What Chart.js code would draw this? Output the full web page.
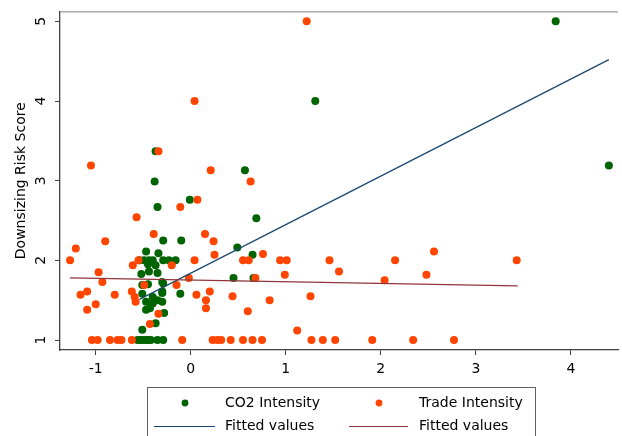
<!DOCTYPE html>
<html>
<head>
<meta charset="utf-8">
<script src="https://cdn.jsdelivr.net/npm/chart.js@4"></script>
<style>
  html, body { margin: 0; padding: 0; background: #fff; }
  canvas { display: block; }
</style>
</head>
<body>
<canvas id="riskChart" width="622" height="436"></canvas>
<script>
// CO2 intensity vs. downsizing risk (green)
const co2Points = [
    [3.84, 5], [1.31, 4], [4.40, 3.19], [-0.37, 3.37], [-0.38, 2.99], [0.57, 3.13], [-0.35, 2.67], [-0.01, 2.76], [0.69, 2.53],
    [-0.29, 2.25], [-0.10, 2.25], [0.49, 2.16], [0.65, 2.07], [0.45, 1.78], [0.66, 1.78],
    [-0.47, 2.11], [-0.34, 2.09],
    [-0.54, 2.0], [-0.49, 2.0], [-0.44, 2.0], [-0.40, 2.0], [-0.29, 2.0], [-0.23, 2.0], [-0.16, 2.0],
    [-0.45, 1.95], [-0.37, 1.94],
    [-0.52, 1.83], [-0.44, 1.86], [-0.35, 1.84],
    [-0.51, 1.69], [-0.45, 1.70], [-0.29, 1.71], [-0.30, 1.73],
    [-0.11, 1.58], [-0.51, 1.58], [-0.40, 1.54], [-0.30, 1.59], [-0.30, 1.61],
    [-0.47, 1.48], [-0.40, 1.46], [-0.30, 1.48], [-0.35, 1.50],
    [-0.47, 1.38], [-0.43, 1.40], [-0.28, 1.34],
    [-0.37, 1.21], [-0.51, 1.13],
    [-0.56, 1], [-0.53, 1], [-0.50, 1], [-0.47, 1], [-0.45, 1], [-0.42, 1], [-0.35, 1], [-0.29, 1]
];

// trade intensity vs. downsizing risk (orange)
const tradePoints = [
    [1.22, 5], [0.04, 4], [-1.05, 3.19], [-0.34, 3.37], [0.21, 3.13], [0.63, 2.99], [0.07, 2.76],
    [-1.27, 2.0], [-1.21, 2.15], [-0.90, 2.24], [-1.16, 1.57], [-1.09, 1.61], [-1.09, 1.38], [-1.0, 1.45], [-0.97, 1.85], [-0.93, 1.73], [-0.80, 1.57],
    [-0.57, 2.54], [-0.61, 1.94], [-0.55, 2.0], [-0.62, 1.61], [-0.59, 1.54], [-0.58, 1.48], [-0.49, 1.69], [-0.39, 2.33], [-0.34, 1.33], [-0.43, 1.2],
    [-0.20, 1.94], [-0.15, 1.69], [-0.11, 2.67], [-0.02, 1.78], [0.04, 2.0], [0.06, 1.57], [0.15, 2.33], [0.24, 2.24], [0.25, 2.07], [0.20, 1.61], [0.16, 1.50], [0.16, 1.40],
    [0.44, 1.55], [0.55, 2.0], [0.61, 2.0], [0.60, 1.36], [0.68, 1.78], [0.76, 2.08], [0.83, 1.50], [0.94, 2.0], [1.01, 2.0], [0.99, 1.82], [1.12, 1.12], [1.26, 1.55],
    [1.46, 2.0], [1.56, 1.86], [2.04, 1.75], [2.15, 2.0], [2.48, 1.82], [2.56, 2.11], [3.43, 2.0],
    [-1.04, 1], [-0.98, 1], [-0.85, 1], [-0.77, 1], [-0.73, 1], [-0.62, 1], [-0.09, 1], [0.23, 1], [0.28, 1], [0.32, 1],
    [0.42, 1], [0.55, 1], [0.65, 1], [0.75, 1], [1.27, 1], [1.39, 1], [1.52, 1], [1.91, 1], [2.34, 1], [2.77, 1]
];

// fitted lines (end points)
const co2Fit = [[-0.54, 1.51], [4.40, 4.52]];
const tradeFit = [[-1.27, 1.78], [3.44, 1.68]];

const xTicks = [-1, 0, 1, 2, 3, 4];
const yTicks = [1, 2, 3, 4, 5];

const seriesLabels = ['CO2 Intensity', 'Trade Intensity', 'Fitted values', 'Fitted values'];

const FONT = "'DejaVu Sans', sans-serif";
const AXIS = '#404040';

const toXY = arr => arr.map(p => ({ x: p[0], y: p[1] }));

// y tick labels are drawn rotated (Stata style), plus top frame and boxed legend
const stataDecor = {
    id: 'stataDecor',
    afterDraw(chart) {
        const ctx = chart.ctx;
        const area = chart.chartArea;
        const ys = chart.scales.y;

        ctx.save();
        // top frame line
        ctx.strokeStyle = '#808080';
        ctx.lineWidth = 1;
        ctx.beginPath();
        ctx.moveTo(area.left, area.top + 0.5);
        ctx.lineTo(area.right, area.top + 0.5);
        ctx.stroke();

        // rotated y tick labels
        ctx.fillStyle = '#000';
        ctx.font = '14px ' + FONT;
        ctx.textAlign = 'center';
        ctx.textBaseline = 'middle';
        ys.ticks.forEach(t => {
            const py = ys.getPixelForValue(t.value);
            ctx.save();
            ctx.translate(41, py);
            ctx.rotate(-Math.PI / 2);
            ctx.fillText(String(t.value), 0, 0);
            ctx.restore();
        });

        // legend box
        const ds = chart.data.datasets;
        ctx.strokeStyle = '#606060';
        ctx.lineWidth = 1;
        ctx.strokeRect(147.5, 387.5, 388, 60);

        ctx.textAlign = 'left';
        ctx.textBaseline = 'middle';
        const rows = [403, 426];
        const cols = [{ mark: 185, l0: 154, l1: 215, text: 225 }, { mark: 379, l0: 349, l1: 408, text: 419 }];

        [0, 1].forEach(i => {
            ctx.fillStyle = ds[i].backgroundColor;
            ctx.beginPath();
            ctx.arc(cols[i].mark, rows[0], 3.4, 0, Math.PI * 2);
            ctx.fill();
            ctx.fillStyle = '#000';
            ctx.fillText(ds[i].label, cols[i].text, rows[0]);
        });
        [2, 3].forEach(i => {
            const c = cols[i - 2];
            ctx.strokeStyle = ds[i].borderColor;
            ctx.lineWidth = 1.2;
            ctx.beginPath();
            ctx.moveTo(c.l0, rows[1] + 0.5);
            ctx.lineTo(c.l1, rows[1] + 0.5);
            ctx.stroke();
            ctx.fillStyle = '#000';
            ctx.fillText(ds[i].label, c.text, rows[1]);
        });
        ctx.restore();
    }
};

new Chart(document.getElementById('riskChart'), {
    type: 'scatter',
    data: {
        datasets: [
            {
                label: seriesLabels[0],
                data: toXY(co2Points),
                backgroundColor: '#006400',
                borderWidth: 0,
                pointRadius: 4,
                order: 4
            },
            {
                label: seriesLabels[1],
                data: toXY(tradePoints),
                backgroundColor: '#ff4500',
                borderWidth: 0,
                pointRadius: 4,
                order: 3
            },
            {
                label: seriesLabels[2],
                data: toXY(co2Fit),
                showLine: true,
                borderColor: '#1a476f',
                borderWidth: 1.2,
                pointRadius: 0,
                order: 2
            },
            {
                label: seriesLabels[3],
                data: toXY(tradeFit),
                showLine: true,
                borderColor: '#90353b',
                borderWidth: 1.2,
                pointRadius: 0,
                order: 1
            }
        ]
    },
    options: {
        responsive: false,
        animation: false,
        events: [],
        layout: { padding: { top: 11, right: 0, bottom: 56, left: 0 } },
        plugins: { legend: { display: false }, tooltip: { enabled: false } },
        scales: {
            x: {
                type: 'linear',
                min: -1.376,
                max: 4.496,
                afterBuildTicks: s => { s.ticks = xTicks.map(v => ({ value: v })); },
                afterFit: s => { s.height = 30; },
                grid: { drawOnChartArea: false, drawTicks: true, tickLength: 5, color: AXIS },
                border: { display: true, color: AXIS, width: 1.3 },
                ticks: { color: '#000', font: { family: FONT, size: 14 }, padding: 6, maxRotation: 0 }
            },
            y: {
                type: 'linear',
                min: 0.875,
                max: 5.125,
                afterBuildTicks: s => { s.ticks = yTicks.map(v => ({ value: v })); },
                afterFit: s => { s.width = 60; },
                grid: { drawOnChartArea: false, drawTicks: true, tickLength: 5, color: AXIS },
                border: { display: true, color: AXIS, width: 1.3 },
                ticks: { color: 'rgba(0,0,0,0)', font: { family: FONT, size: 14 } },
                title: {
                    display: true,
                    text: 'Downsizing Risk Score',
                    color: '#000',
                    font: { family: FONT, size: 14 },
                    padding: { top: 13, bottom: 0 }
                }
            }
        }
    },
    plugins: [stataDecor]
});
</script>
</body>
</html>
